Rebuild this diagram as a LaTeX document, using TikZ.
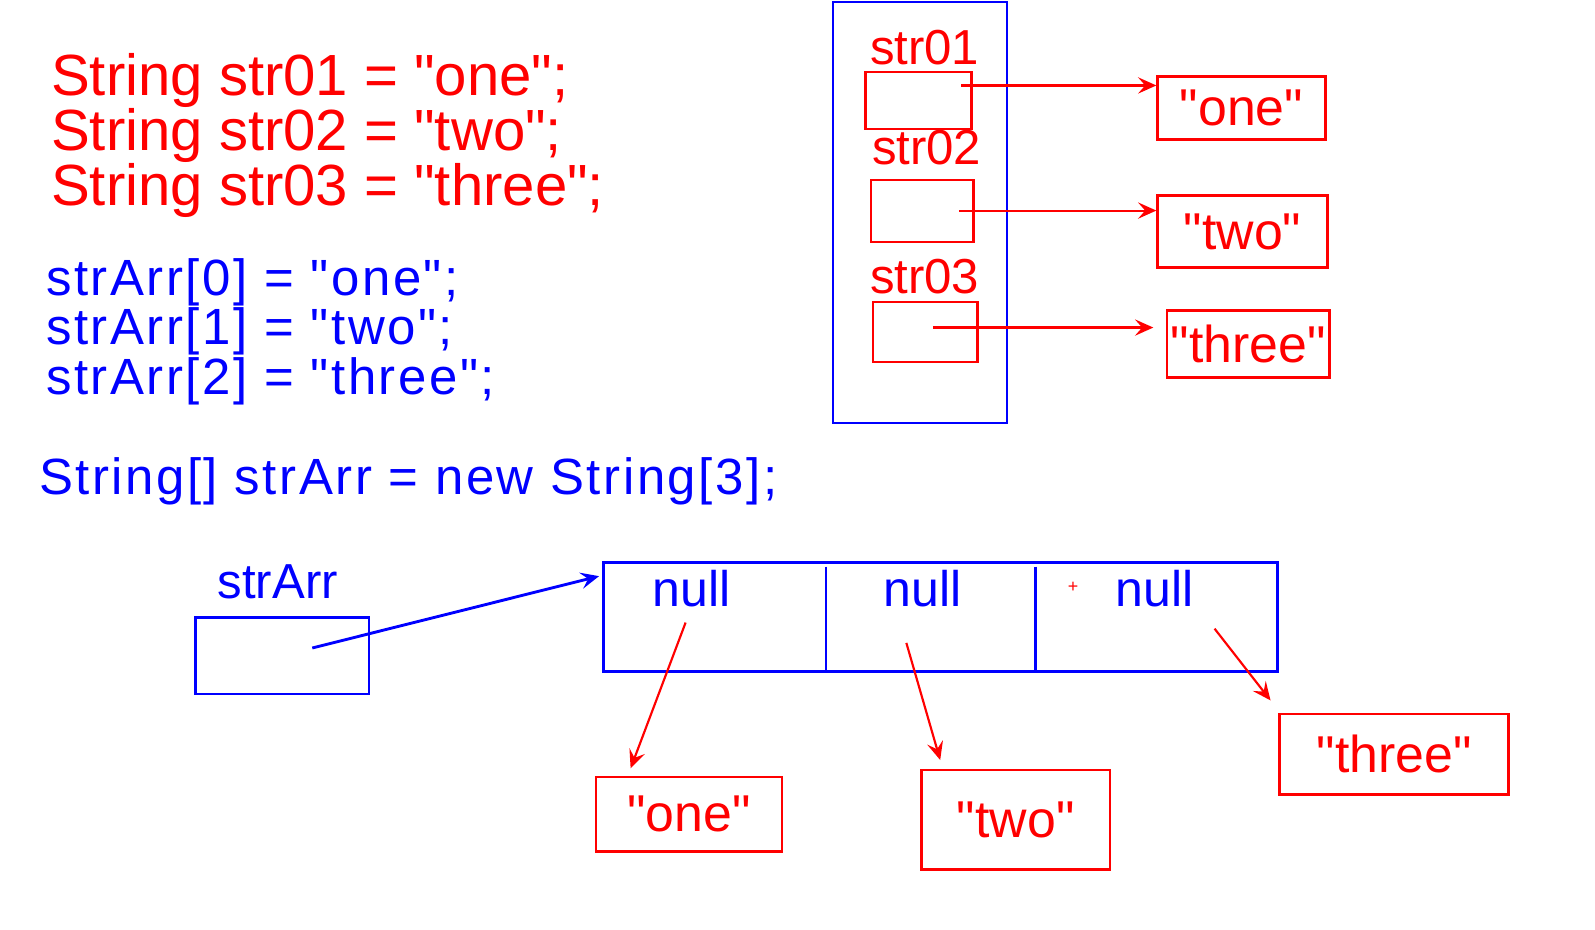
\documentclass[tikz,border=0pt]{standalone}
\usepackage{fontspec}
\newfontfamily\codefont{Liberation Sans}
\newfontfamily\widefont{Liberation Sans}[LetterSpace=5]
\usetikzlibrary{arrows.meta}
\tikzset{
  % lines of code
  code/.style={anchor=base west, inner sep=0pt},
  redcode/.style={code, red, font=\codefont\fontsize{32.5}{39}\selectfont},
  bluecode/.style={code, blue, font=\widefont\fontsize{28.5}{34}\selectfont},
  % stack frame and array object
  frame/.style={draw=blue, line width=1.4pt, inner sep=0pt},
  cell/.style={blue, line width=1.2pt},
  % reference variables
  ref/.style={draw=red, line width=1.4pt, inner sep=0pt},
  % string objects
  val/.style={draw=red, line width=1.4pt, inner sep=0pt, text=red, font=\codefont\fontsize{29}{35}\selectfont},
  lbl/.style={inner sep=0pt, font=\codefont\fontsize{27.5}{33}\selectfont},
  % references
  link/.style={red, line width=1.2pt, -{Stealth[length=3.6mm, width=3.2mm, inset=1.4mm]}},
  blink/.style={blue, line width=1.6pt, -{Stealth[length=3.6mm, width=3.2mm, inset=1.4mm]}},
}

\begin{document}
\begin{tikzpicture}[x=0.02cm, y=-0.02cm]
  \useasboundingbox (0,0) rectangle (1568,914);

  \node[redcode] (c1) at (50,94) {String str01 = "one";};
  \node[redcode] (c2) at (50,148) {String str02 = "two";};
  \node[redcode] (c3) at (50,202) {String str03 = "three";};
  \node[bluecode] (c4) at (45,290) {strArr[0] = "one";};
  \node[bluecode] (c5) at (45,339) {strArr[1] = "two";};
  \node[bluecode] (c6) at (45,388) {strArr[2] = "three";};
  \node[bluecode] (c7) at (38,486) {String[] strArr = new String[3];};

  % stack
  \node[frame, minimum width=3.42cm, minimum height=8.28cm] (stack) at (904.5,209) {};
  \node[lbl, red] (l1) at (909,47) {str01};
  \node[lbl, red] (l2) at (911,145) {str02};
  \node[lbl, red] (l3) at (909,272) {str03};
  \node[ref, minimum width=2.08cm, minimum height=1.12cm] (r1) at (903,99) {};
  \node[ref, minimum width=2.02cm, minimum height=1.22cm] (r2) at (906.5,207.5) {};
  \node[ref, minimum width=2.06cm, minimum height=1.18cm] (r3) at (909.5,326.5) {};

  % heap
  \node[val, minimum width=3.3cm, minimum height=1.24cm] (one) at (1220.5,106) {"one"};
  \node[val, minimum width=3.34cm, minimum height=1.42cm] (two) at (1221.5,227.5) {"two"};
  \node[val, minimum width=3.2cm, minimum height=1.32cm] (three) at (1227,338) {"three"};

  \coordinate (p1) at (945,84);
  \coordinate (p2) at (943,207);
  \coordinate (p3) at (917,322);
  \draw[link] (p1) -- (p1 -| one.west);
  \draw[link] (p2) -- (p2 -| two.west);
  \draw[link, shorten >=0.24cm] (p3) -- (p3 -| three.west);

  % array
  \node[lbl, blue] (l0) at (273,572) {strArr};
  \node[frame, minimum width=3.42cm, minimum height=1.5cm] (sa) at (277.5,644.5) {};
  \node[frame, minimum width=13.26cm, minimum height=2.14cm] (arr) at (924.5,606.5) {};
  \draw[cell] (812,557) -- (812,660);
  \draw[cell] (1018,557) -- (1018,660);
  \node[lbl, blue, font=\codefont\fontsize{28}{34}\selectfont] (n1) at (680,579) {null};
  \node[lbl, blue, font=\codefont\fontsize{28}{34}\selectfont] (n2) at (907,579) {null};
  \node[lbl, blue, font=\codefont\fontsize{28}{34}\selectfont] (n3) at (1135,579) {null};
  \node[red, inner sep=0pt, font=\codefont\fontsize{10}{12}\selectfont] (pl) at (1055,577) {+};

  \node[val, minimum width=3.66cm, minimum height=1.46cm] (b1) at (677.5,800.5) {"one"};
  \node[val, minimum width=3.7cm, minimum height=1.96cm] (b2) at (998.5,806) {"two"};
  \node[val, minimum width=4.5cm, minimum height=1.58cm] (b3) at (1370.5,741.5) {"three"};

  \coordinate (p0) at (307,637);
  \draw[blink, shorten >=0.06cm] (p0) -- (arr.173);
  \coordinate (q1) at (674,612);
  \coordinate (q2) at (891,632);
  \coordinate (q3) at (1194,618);
  \draw[link, shorten >=0.16cm] (q1) -- (b1.148);
  \draw[link, shorten >=0.18cm] (q2) -- (b2.145);
  \draw[link, shorten >=0.31cm] (q3) -- (b3.160);
\end{tikzpicture}
\end{document}
